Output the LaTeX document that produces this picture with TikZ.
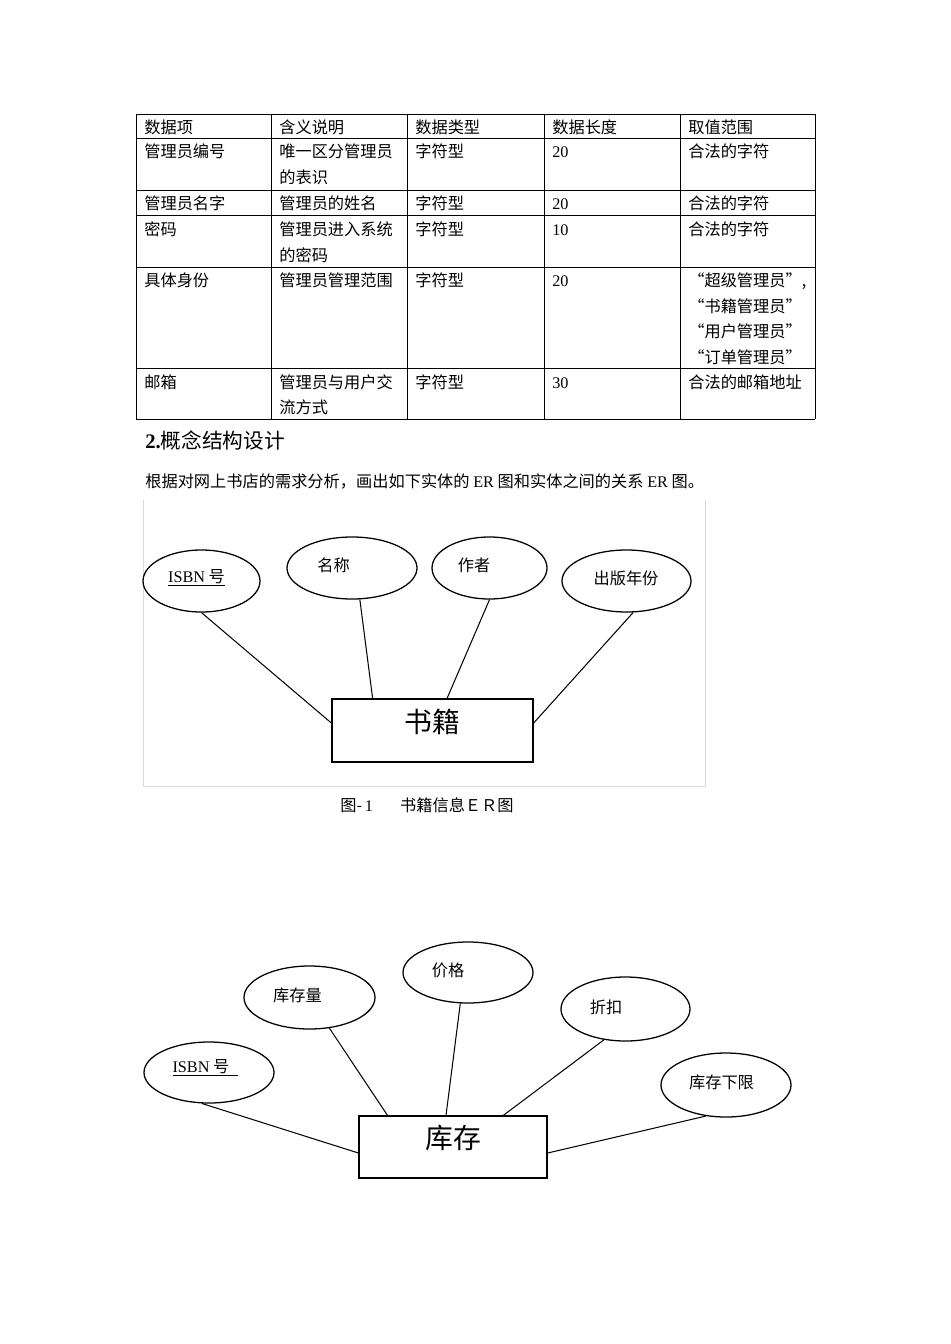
\documentclass[tikz,border=0pt]{standalone}
\usepackage{fontspec}
\setmainfont{Noto Sans CJK SC}
\newfontfamily\lat{Liberation Serif}
\usetikzlibrary{positioning,calc,shapes.geometric}
\def\pu{0.22105mm}
\tikzset{
  gridline/.style={line width=0.6pt},
  frameline/.style={gray!30, line width=0.6pt},
  attrnode/.style={draw, ellipse, line width=0.8pt, inner sep=0pt},
  entnode/.style={draw, rectangle, line width=0.8pt, inner sep=0pt},
  relline/.style={line width=0.65pt},
  celltext/.style={anchor=base west, inner sep=0pt, text width=28.5mm, align=left, font=\fontsize{10.2}{16}\selectfont},
  plaintext/.style={anchor=base west, inner sep=0pt, font=\fontsize{10.2}{16}\selectfont},
  attrtext/.style={inner sep=0pt, font=\fontsize{10.2}{12}\selectfont},
  enttext/.style={inner sep=0pt, font=\fontsize{17.5}{20}\selectfont}
}
\begin{document}
\begin{tikzpicture}[x=\pu, y=-\pu]
  \fill[white] (0,0) rectangle (950,1344);
  \useasboundingbox (0,0) rectangle (950,1344);

  % table
  \foreach \yy in {114,138,190,215,267,368,419}
    \draw[gridline] (136,\yy) -- (815,\yy);
  \foreach \xx in {136,271,407,544,680,815}
    \draw[gridline] (\xx,114) -- (\xx,419);

  \node[celltext] (h1) at (144,134) {数据项};
  \node[celltext] (h2) at (279,134) {含义说明};
  \node[celltext] (h3) at (415,134) {数据类型};
  \node[celltext] (h4) at (552,134) {数据长度};
  \node[celltext] (h5) at (688,134) {取值范围};

  \node[celltext] (a1) at (144,158) {管理员编号};
  \node[celltext] (a2) at (279,158) {唯一区分管理员\\的表识};
  \node[celltext] (a3) at (415,158) {字符型};
  \node[celltext] (a4) at (552,158) {\lat 20};
  \node[celltext] (a5) at (688,158) {合法的字符};

  \node[celltext] (b1) at (144,210) {管理员名字};
  \node[celltext] (b2) at (279,210) {管理员的姓名};
  \node[celltext] (b3) at (415,210) {字符型};
  \node[celltext] (b4) at (552,210) {\lat 20};
  \node[celltext] (b5) at (688,210) {合法的字符};

  \node[celltext] (c1) at (144,236) {密码};
  \node[celltext] (c2) at (279,236) {管理员进入系统\\的密码};
  \node[celltext] (c3) at (415,236) {字符型};
  \node[celltext] (c4) at (552,236) {\lat 10};
  \node[celltext] (c5) at (688,236) {合法的字符};

  \node[celltext] (d1) at (144,287) {具体身份};
  \node[celltext] (d2) at (279,287) {管理员管理范围};
  \node[celltext] (d3) at (415,287) {字符型};
  \node[celltext] (d4) at (552,287) {\lat 20};
  \node[celltext] (d5) at (688,287) {“超级管理员”,\\“书籍管理员”\\“用户管理员”\\“订单管理员”};

  \node[celltext] (e1) at (144,388) {邮箱};
  \node[celltext] (e2) at (279,388) {管理员与用户交\\流方式};
  \node[celltext] (e3) at (415,388) {字符型};
  \node[celltext] (e4) at (552,388) {\lat 30};
  \node[celltext] (e5) at (688,388) {合法的邮箱地址};

  % section text
  \node[plaintext, font=\fontsize{13}{15}\selectfont] (sec) at (145,448) {{\lat\bfseries 2.}概念结构设计};
  \node[plaintext] (para) at (145,487) {根据对网上书店的需求分析，画出如下实体的 {\lat ER} 图和实体之间的关系 {\lat ER} 图。};

  % figure 1
  \draw[frameline] (143,500) -- (143,786) -- (705,786) -- (705,500);
  \node[attrnode, minimum width=117*\pu, minimum height=62*\pu] (isbn1) at (201.5,581) {};
  \node[attrnode, minimum width=130*\pu, minimum height=62*\pu] (name) at (352,568) {};
  \node[attrnode, minimum width=115*\pu, minimum height=62*\pu] (author) at (489.5,568) {};
  \node[attrnode, minimum width=129*\pu, minimum height=62*\pu] (year) at (626.5,581) {};
  \node[entnode, minimum width=201*\pu, minimum height=63*\pu] (book) at (432.5,730.5) {};

  \node[attrtext] (isbn1t) at (196.5,578) {\underline{{\lat ISBN} 号}};
  \node[attrtext] (namet) at (333.5,565) {名称};
  \node[attrtext] (authort) at (474,565) {作者};
  \node[attrtext] (yeart) at (626,578) {出版年份};
  \node[enttext] (bookt) at (432.5,722) {书籍};

  \draw[relline] (isbn1.south) -- ([yshift=7.5*\pu]book.west);
  \draw[relline] (name.-76) -- ($(book.north west)!0.204!(book.north east)$);
  \draw[relline] (author.south) -- ($(book.north west)!0.572!(book.north east)$);
  \draw[relline] (year.-78) -- ([yshift=7.5*\pu]book.east);

  \node[plaintext] (cap1) at (340,811) {图-\,{\lat 1}\hspace{6mm}书籍信息ＥＲ图};

  % figure 2
  \node[attrnode, minimum width=130*\pu, minimum height=61*\pu] (isbn2) at (209,1072.5) {};
  \node[attrnode, minimum width=131*\pu, minimum height=63*\pu] (qty) at (309.5,997.5) {};
  \node[attrnode, minimum width=130*\pu, minimum height=61*\pu] (price) at (468,972.5) {};
  \node[attrnode, minimum width=129*\pu, minimum height=64*\pu] (disc) at (625.5,1009) {};
  \node[attrnode, minimum width=130*\pu, minimum height=64*\pu] (low) at (726,1085) {};
  \node[entnode, minimum width=188*\pu, minimum height=62*\pu] (stock) at (453,1147) {};

  \node[attrtext] (isbn2t) at (205.5,1068) {\underline{{\lat ISBN} 号\hspace{2mm}}};
  \node[attrtext] (qtyt) at (297.5,995) {库存量};
  \node[attrtext] (pricet) at (448,970) {价格};
  \node[attrtext] (disct) at (606,1007) {折扣};
  \node[attrtext] (lowt) at (721.5,1082) {库存下限};
  \node[enttext] (stockt) at (453.5,1138) {库存};

  \draw[relline] (isbn2.-103) -- ([yshift=-6*\pu]stock.west);
  \draw[relline] (qty.-57) -- ($(stock.north west)!0.154!(stock.north east)$);
  \draw[relline] (price.-104) -- ($(stock.north west)!0.463!(stock.north east)$);
  \draw[relline] (disc.-125) -- ($(stock.north west)!0.766!(stock.north east)$);
  \draw[relline] (low.-123) -- ([yshift=-6*\pu]stock.east);
\end{tikzpicture}
\end{document}
